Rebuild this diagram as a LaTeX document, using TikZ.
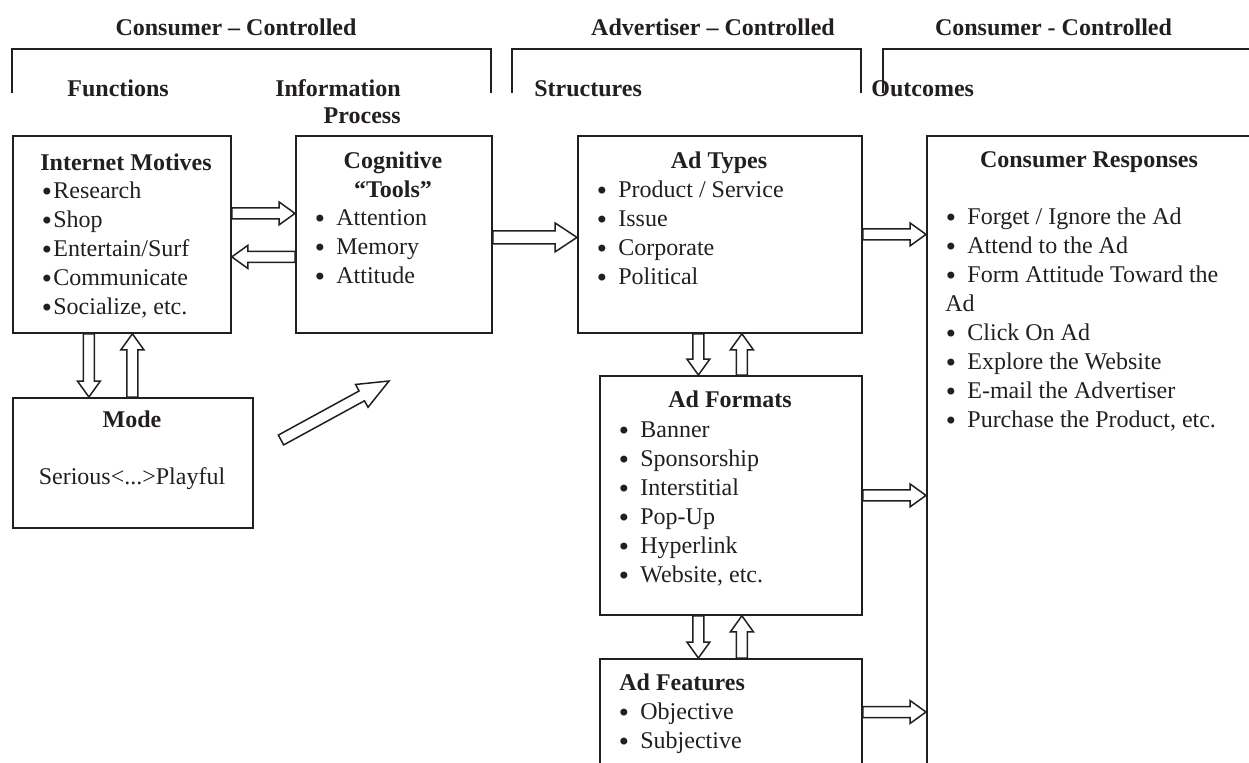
\documentclass[tikz,border=0pt]{standalone}
\usepackage{fontspec}
\setmainfont{Liberation Serif}
\newfontfamily\dvbul{DejaVu Sans}
\usetikzlibrary{calc}
\definecolor{ink}{HTML}{231F20}
\newcommand\blt[3][5.5pt]{\strut\makebox[#2][l]{\makebox[#1][c]{\raisebox{-0.08em}{\dvbul •}}}#3}
\tikzset{
  hollow/.style n args={3}{draw=ink, line width=0.75pt, line join=miter,
    to path={let \p1=(\tikztostart), \p2=(\tikztotarget), \p3=($(\p2)!#3!(\p1)$) in
      ($(\p1)!#1!90:(\p2)$) -- ($(\p3)!#1!90:(\p2)$) -- ($(\p3)!#2!90:(\p2)$) -- (\p2)
      -- ($(\p3)!#2!-90:(\p2)$) -- ($(\p3)!#1!-90:(\p2)$) -- ($(\p1)!#1!-90:(\p2)$) -- cycle}},
  arr/.style={hollow={2.75pt}{5.75pt}{8pt}},
  arrbig/.style={hollow={3.25pt}{7.25pt}{11pt}},
  arrdiag/.style={hollow={2.8pt}{6.5pt}{15.5pt}},
  box/.style={draw=ink, line width=0.9pt, rectangle, inner sep=0pt, anchor=north west},
  brk/.style={draw=ink, line width=0.8pt},
  txt/.style={inner sep=0pt, text=ink, font=\fontsize{12pt}{14.5pt}\selectfont},
  hd/.style={inner sep=0pt, text=ink, font=\fontsize{12pt}{14.5pt}\selectfont\bfseries},
  lst/.style={txt, align=left, anchor=north west}
}
\begin{document}
\begin{tikzpicture}[x=0.5pt,y=-0.5pt]
\useasboundingbox (0,0) rectangle (1249,762);
\clip (0,0) rectangle (1249,762);
% brackets
\draw[brk] (12,93) -- (12,49) -- (491,49) -- (491,93);
\draw[brk] (512,93) -- (512,49) -- (861,49) -- (861,93);
\draw[brk] (883,93) -- (883,49) -- (1260,49);
% header labels
\node[hd, anchor=base] (cc1) at (236,35) {Consumer – Controlled};
\node[hd, anchor=base] (ac) at (713,35) {Advertiser – Controlled};
\node[hd, anchor=base] (cc2) at (1053.5,35) {Consumer - Controlled};
\node[hd, anchor=base west] (fn) at (67,96) {Functions};
\node[hd, align=right, anchor=north east, font=\fontsize{12pt}{13.5pt}\selectfont\bfseries] (ip) at (401,77.1) {\strut Information\\\strut Process};
\node[hd, anchor=base west] (st) at (534,96) {Structures};
\node[hd, anchor=base west] (oc) at (871,96) {Outcomes};
% boxes
\node[box, minimum width=109pt, minimum height=98.5pt] (mot) at (12,135) {};
\node[box, minimum width=98pt, minimum height=98.5pt] (cog) at (295,135) {};
\node[box, minimum width=120pt, minimum height=65pt] (mode) at (12,397) {};
\node[box, minimum width=142pt, minimum height=98.5pt] (types) at (577,135) {};
\node[box, minimum width=131pt, minimum height=119.5pt] (formats) at (599,375) {};
\node[box, minimum width=131pt, minimum height=70pt] (features) at (599,658) {};
\node[box, minimum width=175pt, minimum height=330pt] (resp) at (926,135) {};
% box texts
\node[hd, anchor=base west] (motT) at (40,170) {Internet Motives};
\node[lst] (motL) at (42,177.7) {\blt[4.5pt]{5.5pt}{Research}\\\blt[4.5pt]{5.5pt}{Shop}\\\blt[4.5pt]{5.5pt}{Entertain/Surf}\\\blt[4.5pt]{5.5pt}{Communicate}\\\blt[4.5pt]{5.5pt}{Socialize, etc.}};
\node[hd, align=center, anchor=north] (cogT) at (393,147.7) {\strut Cognitive\\\strut “Tools”};
\node[lst] (cogL) at (314,204.7) {\blt{11pt}{Attention}\\\blt{11pt}{Memory}\\\blt{11pt}{Attitude}};
\node[hd, anchor=base] (typesT) at (719,168) {Ad Types};
\node[lst] (typesL) at (596,176.7) {\blt{11pt}{Product / Service}\\\blt{11pt}{Issue}\\\blt{11pt}{Corporate}\\\blt{11pt}{Political}};
\node[hd, anchor=base] (formatsT) at (730,407) {Ad Formats};
\node[lst] (formatsL) at (618,416.7) {\blt{11pt}{Banner}\\\blt{11pt}{Sponsorship}\\\blt{11pt}{Interstitial}\\\blt{11pt}{Pop-Up}\\\blt{11pt}{Hyperlink}\\\blt{11pt}{Website, etc.}};
\node[hd, anchor=base west] (featuresT) at (619,690) {Ad Features};
\node[lst] (featuresL) at (618,698.7) {\blt{11pt}{Objective}\\\blt{11pt}{Subjective}};
\node[hd, anchor=base] (respT) at (1089,167) {Consumer Responses};
\node[lst] (respL) at (945,203.7) {\blt{11pt}{Forget / Ignore the Ad}\\\blt{11pt}{Attend to the Ad}\\\blt{11pt}{Form Attitude Toward the}\\\strut Ad\\\blt{11pt}{Click On Ad}\\\blt{11pt}{Explore the Website}\\\blt{11pt}{E-mail the Advertiser}\\\blt{11pt}{Purchase the Product, etc.}};
\node[hd, anchor=base] (modeT) at (132,427) {Mode};
\node[txt, anchor=base] (modeL) at (132,484) {Serious<...>Playful};
% arrows
\draw[arr] ($(mot.east)+(0,-21)$) to ($(cog.west)+(0,-21)$);
\draw[arr] ($(cog.west)+(0,22.5)$) to ($(mot.east)+(0,22.5)$);
\draw[arrbig] ($(cog.east)+(0,3)$) to ($(types.west)+(0,3)$);
\draw[arr] (types.east) to (types.east -| resp.west);
\draw[arr] (formats.east) to (formats.east -| resp.west);
\coordinate (fe) at ($(features.north east)+(0,54)$);
\draw[arr] (fe) to (fe -| resp.west);
\draw[arr] ($(mot.south)+(-33,0)$) to ($(mode.north)+(-44,0)$);
\draw[arr] ($(mode.north)+(-0.5,0)$) to ($(mot.south)+(10.5,0)$);
\draw[arr] ($(types.south)+(-21.5,0)$) to ($(formats.north)+(-32.5,0)$);
\draw[arr] ($(formats.north)+(11,0)$) to ($(types.south)+(22,0)$);
\draw[arr] ($(formats.south)+(-32.5,0)$) to ($(features.north)+(-32.5,0)$);
\draw[arr] ($(features.north)+(11,0)$) to ($(formats.south)+(11,0)$);
\coordinate (dtail) at (281,440);
\coordinate (dtip) at (389,381);
\draw[arrdiag] (dtail) to (dtip);
\end{tikzpicture}
\end{document}
